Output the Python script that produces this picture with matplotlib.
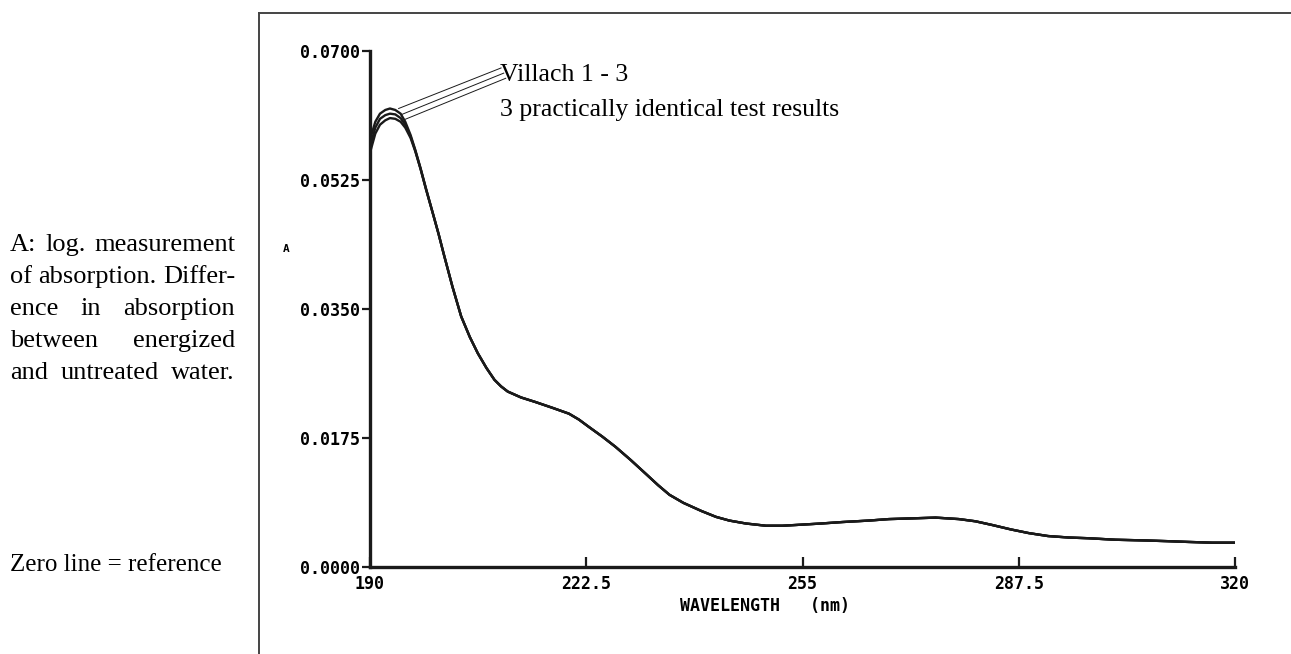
import numpy as np
import matplotlib.pyplot as plt
from matplotlib.lines import Line2D

W, H = 1291, 654

# peak region: the three runs differ slightly
peak_wl = [190, 190.8, 191.5, 192.3, 193.0, 193.8, 194.6, 195.3, 196.1, 196.8, 197.6, 198.4]
villach_1_peak = [0.0580, 0.0604, 0.0615, 0.0620, 0.0622, 0.0620, 0.0615, 0.0604, 0.0586, 0.0566, 0.0541, 0.0514]
villach_2_peak = [0.0570, 0.0596, 0.0608, 0.0613, 0.0615, 0.0614, 0.0609, 0.0600, 0.0584, 0.0565, 0.0540, 0.0513]
villach_3_peak = [0.0562, 0.0588, 0.0600, 0.0606, 0.0609, 0.0608, 0.0604, 0.0596, 0.0582, 0.0564, 0.0540, 0.0513]

# remainder: the three runs coincide
tail_wl = [199.5, 200.3, 201.1, 202.4, 203.7, 205, 206.2, 207.5, 208.7, 209.7,
           210.7, 212.7, 214.8, 217.4, 219.9, 221.4, 222.9, 224.9, 226.9, 229.2,
           231.5, 233.3, 235, 237.1, 239.8, 242, 244, 246.5, 249.5, 252,
           254, 257.8, 261, 265, 268, 271.6, 275, 278.5, 281, 283.5,
           286.3, 289, 291.9, 295, 298, 302, 306.6, 310, 313, 316.5, 320]
tail_abs = [0.0478, 0.0452, 0.0424, 0.0380, 0.0340, 0.0312, 0.0290, 0.0270, 0.0254, 0.0245,
            0.0238, 0.0230, 0.0224, 0.0216, 0.0208, 0.0200, 0.0190, 0.0177, 0.0163, 0.0145,
            0.0126, 0.0111, 0.0098, 0.0087, 0.0076, 0.0068, 0.0063, 0.0059, 0.0056, 0.0056,
            0.0057, 0.0059, 0.0061, 0.0063, 0.0065, 0.0066, 0.0067, 0.0065, 0.0062, 0.0057,
            0.0051, 0.0046, 0.0042, 0.0040, 0.0039, 0.0037, 0.0036, 0.0035, 0.0034, 0.0033, 0.0033]

x_ticks = [190, 222.5, 255, 287.5, 320]
x_labels = ["190", "222.5", "255", "287.5", "320"]
y_ticks = [0.0, 0.0175, 0.035, 0.0525, 0.07]
y_labels = ["0.0000", "0.0175", "0.0350", "0.0525", "0.0700"]

left_note = ["A: log. measurement", "of absorption. Differ-", "ence in absorption",
             "between energized", "and untreated water."]

serif = "Liberation Serif"
mono = "DejaVu Sans Mono"


def px(x, y):
    return x / W, 1 - y / H


fig = plt.figure(figsize=(W / 100, H / 100), dpi=100)
ax = fig.add_axes([370 / W, 1 - 567 / H, (1235 - 370) / W, (567 - 51) / H])

for s in (villach_1_peak, villach_2_peak, villach_3_peak):
    ax.plot(peak_wl + tail_wl, s + tail_abs, color="#1a1a1a", lw=1.7,
            solid_joinstyle="round", solid_capstyle="round")

ax.set_xlim(190, 320)
ax.set_ylim(0, 0.07)
for side in ("top", "right"):
    ax.spines[side].set_visible(False)
for side in ("left", "bottom"):
    ax.spines[side].set_linewidth(2.4)
    ax.spines[side].set_color("#1a1a1a")

ax.set_xticks(x_ticks)
ax.set_xticklabels(x_labels, family=mono, fontsize=12, weight="bold")
ax.set_yticks(y_ticks)
ax.set_yticklabels(y_labels, family=mono, fontsize=12, weight="bold")
ax.tick_params(axis="x", direction="in", length=7, width=1.6, pad=6, color="#1a1a1a")
ax.tick_params(axis="y", direction="out", length=6, width=1.6, pad=1, color="#1a1a1a")

# leader lines from the peaks to the caption
starts = [(194.3, 0.0622), (194.8, 0.0614), (195.2, 0.0607)]
ends = [(209.7, 0.0677), (210.1, 0.0670), (210.4, 0.0663)]
for (x0, y0), (x1, y1) in zip(starts, ends):
    ax.plot([x0, x1], [y0, y1], color="#1a1a1a", lw=0.7, clip_on=False)

fig.text(*px(500, 75), "Villach 1 - 3", family=serif, fontsize=18.5, va="center")
fig.text(*px(500, 110), "3 practically identical test results", family=serif,
         fontsize=18.5, va="center")

fig.text(*px(283, 249), "A", family=mono, fontsize=8, weight="bold", va="center")
fig.text(*px(680, 606), "WAVELENGTH   (nm)", family=mono, fontsize=12,
         weight="bold", va="center")

# justified text block on the left
r = fig.canvas.get_renderer()
x_left, x_right = 10, 235
for i, line in enumerate(left_note):
    words = line.split()
    y = 245 + i * 32
    widths = []
    for w in words:
        t = fig.text(0, 0, w, family=serif, fontsize=19)
        widths.append(t.get_window_extent(r).width)
        t.remove()
    gap = (x_right - x_left - sum(widths)) / max(len(words) - 1, 1)
    xx = x_left
    for w, wd in zip(words, widths):
        fig.text(*px(xx, y), w, family=serif, fontsize=19, va="center")
        xx += wd + gap

fig.text(*px(10, 565), "Zero line = reference", family=serif, fontsize=18, va="center")

# frame lines
fig.add_artist(Line2D([259 / W, 1], [1 - 13 / H, 1 - 13 / H], color="#444444", lw=1.4))
fig.add_artist(Line2D([259 / W, 259 / W], [0, 1 - 13 / H], color="#444444", lw=1.4))

fig.savefig("out.png", dpi=100, facecolor="white")
